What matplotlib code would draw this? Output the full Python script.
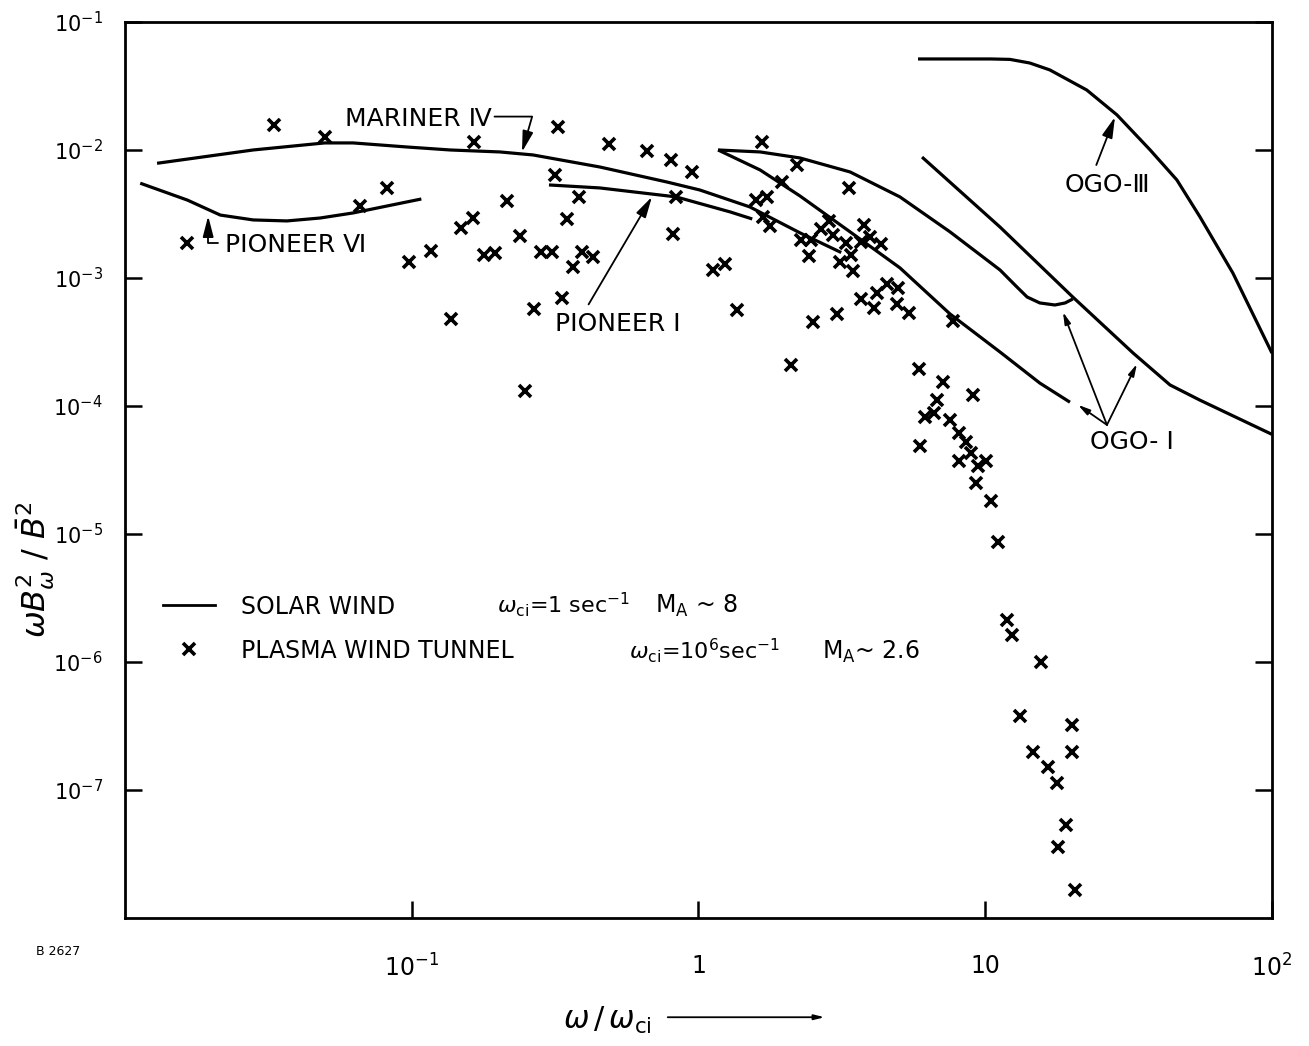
import matplotlib
matplotlib.use("Agg")
import matplotlib.pyplot as plt
from matplotlib.ticker import NullLocator

plt.rcParams['font.family'] = ['DejaVu Sans']
plt.rcParams['mathtext.fontset'] = 'dejavusans'

# plasma wind tunnel spectrum (omega/omega_ci, omega B_w^2 / B^2)
tunnel_x = [0.033, 0.050, 0.0165, 0.066, 0.082, 0.098, 0.117, 0.137, 0.149, 0.164,
            0.165, 0.179, 0.195, 0.215, 0.238, 0.282, 0.308, 0.267, 0.248, 0.317,
            0.324, 0.348, 0.334, 0.383, 0.365, 0.393, 0.429, 0.488, 0.661, 0.802,
            0.815, 0.835, 0.949, 1.12, 1.24, 1.36, 1.67, 2.21, 1.96, 3.35,
            1.59, 1.73, 1.68, 1.78, 2.28, 2.47, 2.43, 2.68, 2.85, 2.94,
            3.27, 3.40, 3.11, 3.46, 3.78, 3.69, 3.96, 4.33, 4.54, 4.96,
            4.19, 3.69, 4.09, 4.92, 5.42, 7.72, 3.04, 2.51, 2.10, 5.88,
            7.12, 9.06, 6.79, 6.63, 6.17, 5.92, 7.54, 8.10, 8.57, 8.92,
            8.10, 9.43, 10.06, 9.28, 10.47, 11.08, 11.91, 12.40, 15.65, 13.22,
            20.07, 14.67, 20.07, 16.56, 17.80, 19.13, 17.94, 20.56]
tunnel_y = [1.57e-2, 1.27e-2, 1.87e-3, 3.65e-3, 5.05e-3, 1.33e-3, 1.63e-3, 4.8e-4, 2.46e-3, 2.94e-3,
            1.16e-2, 1.51e-3, 1.57e-3, 4.0e-3, 2.13e-3, 1.6e-3, 1.6e-3, 5.7e-4, 1.31e-4, 6.4e-3,
            1.51e-2, 2.89e-3, 7.0e-4, 4.3e-3, 1.22e-3, 1.6e-3, 1.46e-3, 1.11e-2, 9.8e-3, 8.35e-3,
            2.21e-3, 4.3e-3, 6.7e-3, 1.16e-3, 1.29e-3, 5.6e-4, 1.16e-2, 7.6e-3, 5.6e-3, 5.05e-3,
            4.06e-3, 4.3e-3, 3.0e-3, 2.55e-3, 1.98e-3, 1.98e-3, 1.49e-3, 2.42e-3, 2.79e-3, 2.17e-3,
            1.87e-3, 1.51e-3, 1.33e-3, 1.13e-3, 2.59e-3, 1.91e-3, 2.09e-3, 1.84e-3, 9.0e-4, 8.35e-4,
            7.6e-4, 6.85e-4, 5.8e-4, 6.3e-4, 5.3e-4, 4.6e-4, 5.2e-4, 4.5e-4, 2.09e-4, 1.95e-4,
            1.54e-4, 1.22e-4, 1.11e-4, 8.8e-5, 8.2e-5, 4.9e-5, 7.8e-5, 6.15e-5, 5.2e-5, 4.3e-5,
            3.7e-5, 3.4e-5, 3.7e-5, 2.5e-5, 1.81e-5, 8.7e-6, 2.13e-6, 1.63e-6, 1.0e-6, 3.8e-7,
            3.2e-7, 1.98e-7, 1.98e-7, 1.51e-7, 1.13e-7, 5.3e-8, 3.6e-8, 1.66e-8]

# solar wind spectra from spacecraft
pioneer6_x = [0.0113, 0.0165, 0.0215, 0.028, 0.0367, 0.0479, 0.0624, 0.082, 0.108]
pioneer6_y = [5.5e-3, 4.06e-3, 3.1e-3, 2.84e-3, 2.79e-3, 2.94e-3, 3.22e-3, 3.65e-3, 4.14e-3]

mariner4_x = [0.0131, 0.028, 0.0497, 0.0624, 0.0962, 0.136, 0.203, 0.265, 0.453, 0.776,
              1.01, 1.51, 2.26, 3.11]
mariner4_y = [7.9e-3, 1.0e-2, 1.135e-2, 1.135e-2, 1.055e-2, 1.0e-2, 9.65e-3, 9.14e-3, 7.36e-3, 5.62e-3,
              4.87e-3, 3.59e-3, 2.25e-3, 1.6e-3]

pioneer1_x = [0.301, 0.453, 0.835, 1.29, 1.54]
pioneer1_y = [5.33e-3, 5.05e-3, 4.3e-3, 3.28e-3, 2.89e-3]

ogo1_lower_x = [1.17, 1.64, 2.26, 3.38, 5.04, 7.54, 11.26, 15.5, 19.75]
ogo1_lower_y = [1.0e-2, 6.98e-3, 4.37e-3, 2.29e-3, 1.2e-3, 5.23e-4, 2.64e-4, 1.51e-4, 1.07e-4]

ogo1_hook_x = [1.17, 1.64, 2.26, 3.38, 5.04, 7.54, 11.26, 12.9, 14.0, 15.5, 17.5, 19.0, 20.2]
ogo1_hook_y = [1.0e-2, 9.65e-3, 8.66e-3, 6.73e-3, 4.3e-3, 2.29e-3, 1.155e-3, 8.5e-4, 7.1e-4,
               6.38e-4, 6.15e-4, 6.38e-4, 6.85e-4]

ogo1_upper_x = [6.02, 11.26, 20.2, 32.8, 44.1, 56.1, 100]
ogo1_upper_y = [8.8e-3, 2.5e-3, 7.1e-4, 2.59e-4, 1.46e-4, 1.11e-4, 6.0e-5]

ogo3_x = [5.83, 10.5, 12.2, 14.3, 16.8, 22.6, 28.8, 37.6, 46.6, 56.1, 73.1, 100]
ogo3_y = [5.14e-2, 5.14e-2, 5.1e-2, 4.78e-2, 4.22e-2, 2.94e-2, 1.88e-2, 1.0e-2, 5.83e-3, 3.0e-3,
          1.09e-3, 2.59e-4]

x_ticks = [0.1, 1, 10, 100]
x_labels = ['$10^{-1}$', '1', '10', '$10^{2}$']
y_ticks = [1e-7, 1e-6, 1e-5, 1e-4, 1e-3, 1e-2, 1e-1]
y_labels = ['$10^{-7}$', '$10^{-6}$', '$10^{-5}$', '$10^{-4}$', '$10^{-3}$', '$10^{-2}$', '$10^{-1}$']

fig = plt.figure(figsize=(13.09, 10.46), dpi=100)
ax = fig.add_axes([0.0955, 0.1224, 0.8762, 0.8566])
ax.set_xscale('log')
ax.set_yscale('log')
ax.set_xlim(0.01, 100)
ax.set_ylim(1e-8, 1e-1)

lw = 2.3
solar, = ax.plot(mariner4_x, mariner4_y, color='black', lw=lw)
for xs, ys in [(pioneer6_x, pioneer6_y), (pioneer1_x, pioneer1_y),
               (ogo1_lower_x, ogo1_lower_y), (ogo1_hook_x, ogo1_hook_y),
               (ogo1_upper_x, ogo1_upper_y), (ogo3_x, ogo3_y)]:
    ax.plot(xs, ys, color='black', lw=lw, solid_capstyle='butt')

tunnel, = ax.plot(tunnel_x, tunnel_y, linestyle='none', marker='x', color='black',
                  markersize=9, markeredgewidth=2.6)

# axes
ax.set_xticks(x_ticks)
ax.set_xticklabels(x_labels)
ax.set_yticks(y_ticks)
ax.set_yticklabels(y_labels)
ax.xaxis.set_minor_locator(NullLocator())
ax.yaxis.set_minor_locator(NullLocator())
ax.tick_params(axis='x', direction='in', length=12, width=1.8, pad=26, labelsize=17, top=False)
ax.tick_params(axis='y', direction='in', length=12, width=1.8, pad=16, labelsize=15, right=True)
for s in ax.spines.values():
    s.set_linewidth(2.0)

# curve labels
txt = dict(fontsize=18, color='black')
arr = dict(arrowstyle='-|>,head_length=0.7,head_width=0.18', color='black', lw=1.3,
           shrinkA=0, shrinkB=0)

ax.annotate('MARINER \u2163', xy=(0.2424, 9.65e-3), xytext=(0.0585, 1.746e-2),
            va='center', ha='left',
            arrowprops=dict(arr, relpos=(1, 0.6), connectionstyle='angle,angleA=0,angleB=74,rad=0'),
            **txt)
ax.annotate('PIONEER \u2165', xy=(0.0195, 3.05e-3), xytext=(0.0223, 1.81e-3),
            va='center', ha='left',
            arrowprops=dict(arr, relpos=(0, 0.6), connectionstyle='angle,angleA=0,angleB=90,rad=0',
                            shrinkA=3),
            **txt)
ax.annotate('PIONEER \u2160', xy=(0.688, 4.3e-3), xytext=(0.3165, 4.37e-4),
            va='center', ha='left',
            arrowprops=dict(arr, relpos=(0.23, 1.0), shrinkA=4),
            **txt)
ax.annotate('OGO-\u2162', xy=(28.35, 1.81e-2), xytext=(18.97, 5.33e-3),
            va='center', ha='left',
            arrowprops=dict(arr, relpos=(0.33, 1.0), shrinkA=4),
            **txt)
ax.text(23.2, 5.23e-5, 'OGO- \u2160', va='center', ha='left', **txt)
ogo1_base = (26.58, 7.11e-5)
for tip in [(18.67, 5.42e-4), (33.82, 2.13e-4), (21.07, 1.02e-4)]:
    ax.annotate('', xy=tip, xytext=ogo1_base, arrowprops=arr)

# legend rows
leg = ax.legend([solar, tunnel], ['SOLAR WIND', 'PLASMA WIND TUNNEL'],
                loc='upper left', bbox_to_anchor=(0.033, 0.361), frameon=False,
                fontsize=17, handlelength=2.2, handletextpad=1.1, labelspacing=0.85,
                borderpad=0, borderaxespad=0)
leg.legend_handles[0].set_linewidth(2.0)
ax.text(0.3243, 0.3404, r'$\omega_{\rm ci}$=1 sec$^{-1}$', transform=ax.transAxes,
        fontsize=16, va='baseline')
ax.text(0.4621, 0.3404, r'M$_{\rm A}$ ~ 8', transform=ax.transAxes,
        fontsize=17, va='baseline')
ax.text(0.4394, 0.2891, r'$\omega_{\rm ci}$=10$^{6}$sec$^{-1}$', transform=ax.transAxes,
        fontsize=16, va='baseline')
ax.text(0.6077, 0.2891, r'M$_{\rm A}$~ 2.6', transform=ax.transAxes,
        fontsize=17, va='baseline')

# axis titles
fig.text(0.027, 0.455, r'$\omega B^2_\omega\ /\ \bar{B}^2$', rotation=90,
         fontsize=23, ha='center', va='center')
fig.text(0.4637, 0.0249, r'$\omega\,/\,\omega_{\rm ci}$', fontsize=22, ha='center', va='center')
ax.annotate('', xy=(0.632, 0.0275), xycoords='figure fraction',
            xytext=(0.508, 0.0275), textcoords='figure fraction',
            arrowprops=dict(arrowstyle='-|>,head_length=0.6,head_width=0.15', color='black', lw=1.3))
fig.text(0.0275, 0.0899, 'B 2627', fontsize=9, ha='left', va='center')

fig.savefig('out.png', dpi=100)
